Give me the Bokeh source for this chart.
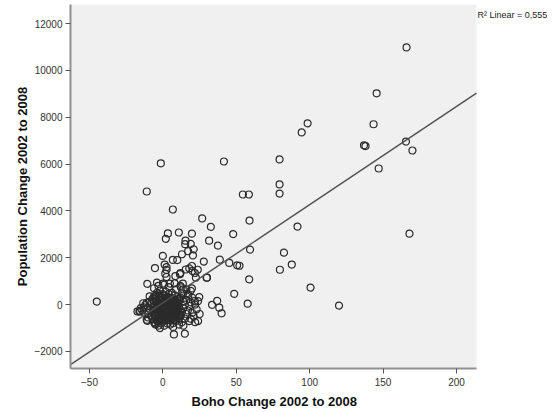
from bokeh.plotting import figure
from bokeh.models import Range1d, Label, FixedTicker, BoxAnnotation, Title
from bokeh.embed import file_html
from bokeh.resources import INLINE

# ---- data ----
sparse_x = [-45, -11, -1.4, 6.8, 41.6, 54.5, 58.6, 79.5, 79.5, 79.5,
            166, 145.6, 143.5, 98.6, 94.6, 137, 138, 165.6, 170, 147,
            91.7, 168, 82.5, 87.8, 79.7, 100.6, 120,
            59, 59.4, 58.8, 57.8, 48.6, 47.9, 37.5, 32.7, 26.8, 31.5, 38.8, 45.2, 50.6, 52.2,
            30, 27.9, 37, 33.5, 38.4, 40, 24.8, 24, 15, 7.5,
            -10.6, -5.4, -4, -10.6, -15.6, -17.3,
            3.4, 2, 10.9, 19.8, 0, 6.8, 9.8, 15.4, 15.2, 19, 21, 17.2, 13, 20.5,
            8.5, 12, 19.8, 15.6, 18, 23.8, 21.8, 22.5, 1.2, 2.5, 2.5, 1.6, 2.5,
            0, 4.8, 8, 13.6, 19.8, 12.3, 19, 13.9, 11.6, 29.8, 20.2,
            -13.4, -8.9, -5.4, -2, -5.4, -2.5, 11.1, 13.9, 17.3, 21.8]
sparse_y = [130, 4830, 6030, 4060, 6110, 4700, 4700, 6200, 5130, 4740,
            10980, 9020, 7700, 7740, 7350, 6800, 6770, 6960, 6580, 5810,
            3330, 3030, 2220, 1710, 1490, 730, -40,
            3590, 2350, 1080, 40, 460, 3010, 2520, 3320, 3680, 2730, 1920, 1780, 1680, 1660,
            1150, 1840, 160, -10, -130, -370, 320, -700, -1240, -1270,
            890, 1560, 940, -690, -260, -290,
            3040, 2810, 3080, 3030, 2080, 1910, 1900, 2730, 2580, 2595, 2360, 2280, 2150, 2100,
            1220, 1350, 1650, 1500, 1550, 1490, 1350, 1150, 1710, 1600, 1480, 1320, 1180,
            900, 900, 910, 900, 690, 740, 590, 480, 1300, 1150, 1440,
            60, 130, -800, -1000, 270, 440, 240, 130, 380, 160]

core_x = [-4, -3, -2, -1, 0, 1, 2, 3, 4, 5, 6, 7, 8, 9, 10,
          -5, -4, -3, -2, -1, 0, 1, 2, 3, 4, 5, 6, 7, 8, 9, 10,
          -3, -2, -1, 0, 1, 2, 3, 4, 5, 6, 7, 8, 9, 10,
          -4, -1, 0, 1, 2, 3, 4, 5, 6, 7, 8, 9, 10,
          0.5, 1.5, 2.5, 3.5, 4.5, 5.5, 6.5, 7.5, -0.5, -1.5, -2.5, 0.5, 1.5, 2.5, 3.5,
          4.5, 5.5, 6.5, 7.5, 8.5, -0.5, 0.5, 1.5, 3.5, -6, -7, -5, -6, -4.5, 11, 9.5,
          -6, -5, -4, -3, -2, -1, 0, 1, 2, 3, 4, 5, 6, 7, 8, 9, 10, 11, 12, -5,
          -3, -1, 1, 3, 5, 7, 9, 11, -4, -2, 0, 2, 4, 6, 8, 10, 12, -6, -4, -2]
core_y = [-600, -450, -300, -150, 0, 150, 250, -520, -380, -240, -90, 60, 200, -640, -480,
          -200, -50, 100, 220, -560, -420, -280, -130, 20, 170, 290, -600, -450, -320, -170, -20,
          -700, -520, -380, -240, -100, 40, 180, -650, -500, -350, -210, -60, 90, 230,
          -350, 50, 200, -640, -470, -330, -190, -40, 120, 270, -560, -400, -260,
          -550, -350, -50, -180, 80, -300, -150, -380, -470, -260, -60, 100, -20, -600, -420,
          -560, -680, 30, 140, -250, 300, -700, 380, 320, 350, -150, -420, 150, 400, -100, 60,
          -400, -500, -250, -80, 80, -650, -330, -470, -560, -250, -520, -150, 200, -300, 60, -520, -330, -150, -300, 150,
          -160, -300, 0, -650, 80, -560, -280, -400, 150, -130, -500, 300, -50, -450, -150, 100, -500, -200, -700, 380]

ring_x = [-14, -13, -12, -11, -10, -9, -8, -8, -7, -7, -6, -6, -5, -5, -4, -3, -2, -1, 0, 1,
          2, 3, 4, 5, 6, 7, 8, 9, 10, 11, 11, 12, 12, 13, 13, 14, 14, 15, 15, 16,
          16, 17, 17, 18, 18, 19, 20, 20, 21, 22, 23, 24, 25, -9, -10, -12, -16, -15, -11, -6,
          -3, 1, 4, 9, 12, 16, -7, 11, 14, 7, 19, 22, 13]
ring_y = [-250, -120, -20, 80, -350, -200, -480, 50, -620, 250, -750, -100, 350, -850, 500, -900, 600, -800, 450, -900,
          550, -800, 450, -850, 500, -780, 400, -700, 350, -600, 150, -450, 300, -300, 500, -150, 650, 0, -600, 200,
          -400, -250, 450, -50, -700, 100, -350, 300, -500, 0, -200, 150, -400, 350, -550, -400, -300, -150, -650, 700,
          800, 850, 750, 650, 800, 650, -300, -850, -900, -950, -600, -750, -750]

boho_change = sparse_x + core_x + ring_x
pop_change = sparse_y + core_y + ring_y

x_ticks = [-50, 0, 50, 100, 150, 200]
y_ticks = [-2000, 0, 2000, 4000, 6000, 8000, 10000, 12000]
x_lo, x_hi = -62.94, 213.62          # extent of the grey plot area
fit_slope = 41.9
fit_intercept = 80
r2_text = "R² Linear = 0,555"
x_label = "Boho Change 2002 to 2008"
y_label = "Population Change 2002 to 2008"

FONT = "Liberation Sans"

# frame spans to the right edge so the R² note (outside the grey area) is not clipped
p = figure(width=556, height=412, output_backend="svg", toolbar_location=None,
           x_range=Range1d(x_lo, 268.12), y_range=Range1d(-2726, 12811),
           min_border_left=70, min_border_right=0, min_border_top=4, min_border_bottom=44,
           background_fill_color="white", border_fill_color="white",
           outline_line_color=None)
p.grid.visible = False

p.add_layout(BoxAnnotation(left=x_lo, right=x_hi, fill_color="#f0f0f0", fill_alpha=1,
                           line_color=None, level="underlay"))

p.scatter(boho_change, pop_change, marker="circle", size=7,
          fill_color=None, line_color="#2b2b2b", line_width=1.2)

fit_x = [x_lo, x_hi]
fit_y = [fit_intercept + fit_slope * v for v in fit_x]
p.line(fit_x, fit_y, line_color="#505050", line_width=1.4)

for ax, ticks in ((p.xaxis[0], x_ticks), (p.yaxis[0], y_ticks)):
    ax.ticker = FixedTicker(ticks=ticks)
    ax.axis_line_color = "#8f8f8f"
    ax.axis_line_width = 2
    ax.major_tick_line_color = "#555555"
    ax.major_tick_out = 5
    ax.major_tick_in = 0
    ax.minor_tick_line_color = None
    ax.major_label_text_font = FONT
    ax.major_label_text_font_size = "10px"
    ax.major_label_text_color = "#333333"
    ax.axis_label_text_font = FONT
    ax.axis_label_text_font_size = "13px"
    ax.axis_label_text_font_style = "bold"
    ax.axis_label_text_color = "#111111"

p.xaxis.bounds = (x_lo, x_hi)
p.yaxis.axis_label = y_label
p.xaxis.major_label_standoff = 4
p.yaxis.major_label_standoff = 3
p.yaxis.axis_label_standoff = 1

# x-axis title, centred under the grey plot area (not the wider frame)
p.add_layout(Title(text=x_label, align="left", offset=121, standoff=6,
                   text_font=FONT, text_font_size="13px", text_font_style="bold",
                   text_color="#111111"), "below")

p.add_layout(Label(x=477, y=14, x_units="canvas", y_units="canvas", text=r2_text,
                   text_font=FONT, text_font_size="9px", text_color="#222222",
                   text_baseline="middle", text_align="left"))

open("out.html", "w").write(file_html(p, INLINE))
